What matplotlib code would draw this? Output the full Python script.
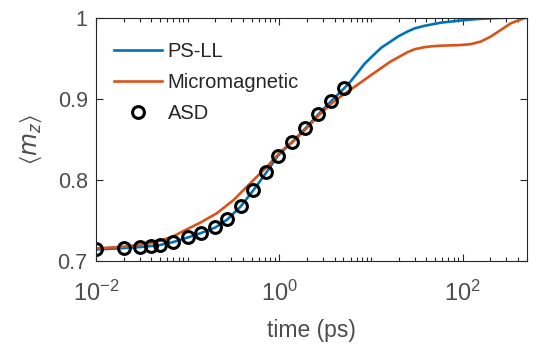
import matplotlib
matplotlib.use("Agg")
from matplotlib import pyplot as plt
from matplotlib.ticker import LogLocator, NullFormatter, FixedLocator

"""
Relaxation of <m_z>: PS-LL vs micromagnetic vs atomistic spin dynamics
"""

# ASD (atomistic) points
asd_t = [0.01, 0.02, 0.03, 0.04, 0.05, 0.07, 0.1, 0.14, 0.2, 0.27, 0.38,
         0.52, 0.72, 0.96, 1.38, 1.92, 2.65, 3.67, 5.1]
asd_m = [0.7154, 0.7170, 0.7182, 0.7194, 0.7207, 0.7243, 0.7298, 0.7354,
         0.7421, 0.7519, 0.7682, 0.7879, 0.8097, 0.8301, 0.8473, 0.8638,
         0.8810, 0.8973, 0.9130]

# PS-LL curve
psll_t = [0.01, 0.02, 0.03, 0.04, 0.05, 0.07, 0.1, 0.14, 0.2, 0.27, 0.38,
          0.52, 0.72, 0.96, 1.38, 1.92, 2.65, 3.67, 5.1, 6.0, 7.06, 8.5,
          10.7, 13.0, 16.3, 20.0, 24.9, 30.0, 37.8, 57.5, 91, 140, 220,
          330, 500]
psll_m = [0.7147, 0.7165, 0.7177, 0.7190, 0.7203, 0.7240, 0.7295, 0.7350,
          0.7418, 0.7515, 0.7678, 0.7875, 0.8093, 0.8298, 0.8470, 0.8635,
          0.8807, 0.8970, 0.9130, 0.9215, 0.9314, 0.9430, 0.9540, 0.9630,
          0.9703, 0.9770, 0.9826, 0.9866, 0.9896, 0.9936, 0.9961, 0.9980,
          0.9992, 0.9998, 1.0]

# Micromagnetic curve
mm_t = [0.01, 0.02, 0.03, 0.04, 0.05, 0.07, 0.09, 0.137, 0.208, 0.317,
        0.482, 0.734, 1.03, 1.43, 2.0, 2.65, 3.67, 4.64, 7.06, 10.7, 16.3,
        24.9, 30.0, 37.8, 46.0, 57.5, 72.0, 91, 122, 157, 202, 260, 335,
        431, 500]
mm_m = [0.7160, 0.7182, 0.7205, 0.7228, 0.7255, 0.7310, 0.7375, 0.7477,
        0.7593, 0.7756, 0.7962, 0.8166, 0.8350, 0.8480, 0.8640, 0.8790,
        0.8940, 0.9026, 0.9170, 0.9314, 0.9457, 0.9572, 0.9610, 0.9634,
        0.9646, 0.9653, 0.9657, 0.9660, 0.9672, 0.9703, 0.9764, 0.9846,
        0.9928, 0.9977, 1.0]

BLUE = "#0072BD"
ORANGE = "#D95319"
GREY = "#262626"


def main():
    plt.rcParams["font.family"] = ["Liberation Sans", "DejaVu Sans"]
    plt.rcParams["mathtext.default"] = "regular"
    plt.rcParams["font.size"] = 14.5

    fig = plt.figure(figsize=(5.37, 3.5), dpi=100)
    ax = fig.add_axes([0.1788, 0.2529, 0.802, 0.6971])

    ax.plot(psll_t, psll_m, color=BLUE, lw=1.9, label="PS-LL")
    ax.plot(mm_t, mm_m, color=ORANGE, lw=1.9, label="Micromagnetic")
    ax.plot(asd_t, asd_m, "o", ms=8.5, mfc="none", mec="black", mew=2.2,
            label="ASD")

    ax.set_xscale("log")
    ax.set_xlim(0.01, 500)
    ax.set_ylim(0.7, 1.0)
    ax.xaxis.set_major_locator(FixedLocator([1e-2, 1e0, 1e2]))
    ax.xaxis.set_minor_locator(LogLocator(base=10, subs=range(1, 10), numticks=20))
    ax.xaxis.set_minor_formatter(NullFormatter())
    ax.set_yticks([0.7, 0.8, 0.9, 1.0])
    ax.set_yticklabels(["0.7", "0.8", "0.9", "1"])

    ax.tick_params(which="both", direction="in", top=True, right=True,
                   colors=GREY, labelcolor="#4d4d4d", width=0.8)
    ax.tick_params(which="major", length=5, labelsize=15.5, pad=6)
    ax.tick_params(axis="x", which="major", labelsize=17, pad=14)
    ax.tick_params(which="minor", length=3)
    for s in ax.spines.values():
        s.set_color(GREY)
        s.set_linewidth(0.8)

    ax.set_xlabel("time (ps)", fontsize=16.5, color="#4d4d4d", labelpad=9)
    ax.set_ylabel(r"$\langle \mathit{m_z} \rangle$", fontsize=17,
                  color="#4d4d4d", labelpad=10)

    leg = ax.legend(loc="upper left", frameon=False, fontsize=14.5,
                    handlelength=2.4, handletextpad=0.25, labelspacing=0.6,
                    borderaxespad=0.5, bbox_to_anchor=(0.0, 0.975))
    for t in leg.get_texts():
        t.set_color(GREY)

    fig.savefig("out.png", dpi=100)


if __name__ == '__main__':
    main()
